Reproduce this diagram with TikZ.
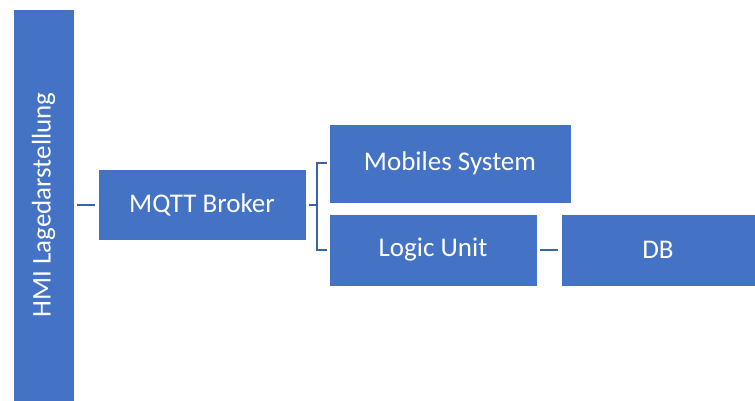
\documentclass[tikz,border=0pt]{standalone}
\usepackage{fontspec}
\setmainfont{Carlito}
\definecolor{boxblue}{HTML}{4472C4}
\definecolor{lineblue}{HTML}{3A63AE}

\begin{document}
\begin{tikzpicture}[x=1pt, y=-1pt,
	every node/.style={font=\fontsize{27}{31}\selectfont, text=white},
	blk/.style={draw=white, line width=0.5pt, fill=boxblue, inner sep=0pt},
	link/.style={draw=lineblue, line width=2pt}]
		\useasboundingbox (0,0) rectangle (755,401);
		\node[blk, rotate=90, minimum width=392pt, minimum height=61pt] (hmi)at(43.5,205) {HMI Lagedarstellung};
		\node[blk, minimum width=208pt, minimum height=71pt] (mqtt)at(202,205) {MQTT Broker};
		\node[blk, minimum width=242pt, minimum height=79pt] (mobil)at(450,163.5) {Mobiles System};
		\node[blk, minimum width=208pt, minimum height=72pt] (logic)at(433,250) {Logic Unit};
		\node[blk, minimum width=194pt, minimum height=72pt] (db)at(658,250) {DB};
		\draw[link, shorten <=3pt, shorten >=3pt] (hmi.south) -- (mqtt.west);
		\draw[link] ([xshift=3pt]mqtt.east) -- ++(8,0);
		\draw[link] ([xshift=-2pt]mobil.west) -- ++(-10,0) |- ([xshift=-2pt]logic.west);
		\draw[link, shorten <=3pt, shorten >=3pt] (logic.east) -- (db.west);
	\end{tikzpicture}
\end{document}
